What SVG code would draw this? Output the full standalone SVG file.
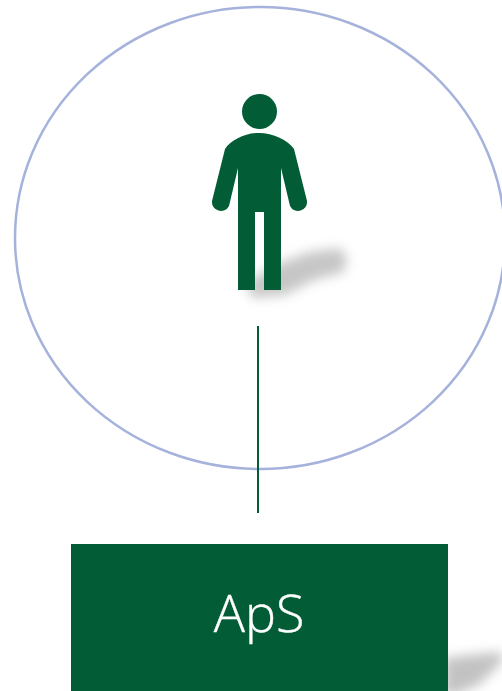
<svg xmlns="http://www.w3.org/2000/svg" width="502" height="691" viewBox="0 0 502 691">
<style>
.g{fill:#025C35}
.label{font-family:"Open Sans","Liberation Sans",sans-serif;font-weight:300;font-size:52px;fill:#fff;text-anchor:middle;stroke:#fff;stroke-width:.4px}
</style>
<defs>
<filter id="b" x="-50%" y="-100%" width="200%" height="300%"><feGaussianBlur stdDeviation="6"/></filter>
</defs>
<rect width="502" height="691" fill="#fff"/>
<g id="circle"><ellipse cx="260" cy="238" rx="245" ry="231" fill="none" stroke="#A5B2DC" stroke-width="2.500"/></g>
<g id="person">
<polygon points="246,282 282,262 310,252 340,248 347,258 344,272 314,280 285,295 252,298" fill="#b4b4b4" opacity=".75" filter="url(#b)"/>
<circle class="g" cx="259.500" cy="111.500" r="17.500"/>
<path class="g" d="M238,290V168L229,206A9,9 0 0 1 212,201L225,149C231,140 245,133 259,133C273,133 288,140 294,149L307,201A9,9 0 0 1 290,206L281,168V290H264V212H255V290Z"/>
</g>
<g id="connectors"><line x1="258" y1="326" x2="258" y2="513" stroke="#025C35" stroke-width="2"/></g>
<g id="aps">
<polygon points="444,658 478,654 502,652 502,662 480,684 455,695 444,695" fill="#b4b4b4" opacity=".8" filter="url(#b)"/>
<rect class="g" x="71" y="544" width="377" height="147"/>
<text class="label" x="259" y="632">ApS</text>
</g>
</svg>
